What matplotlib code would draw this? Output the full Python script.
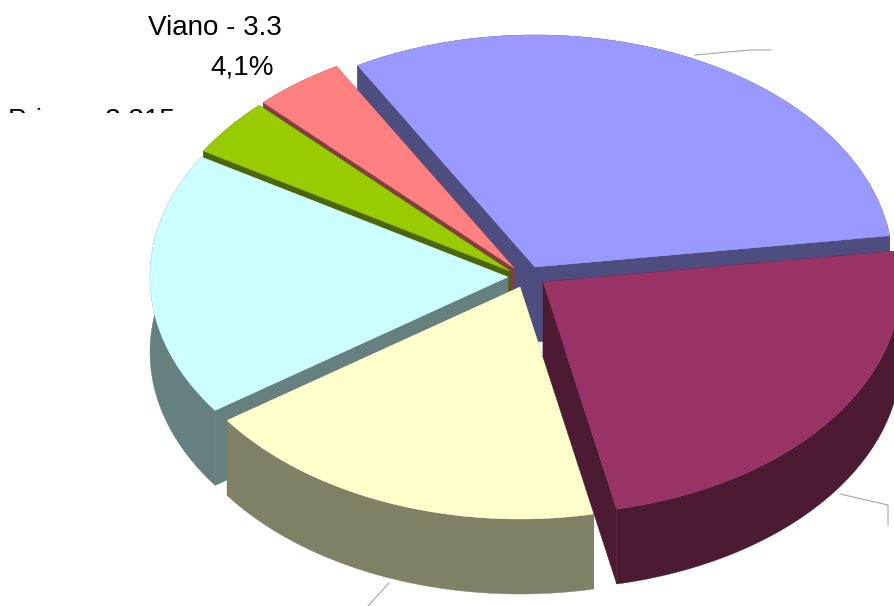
import numpy as np
import matplotlib
matplotlib.use("Agg")
import matplotlib.pyplot as plt
from matplotlib.patches import Polygon, Rectangle

plt.rcParams['font.family'] = ['Liberation Sans', 'DejaVu Sans']

# Data: share of each slice (percent), clockwise from the start angle
slice_names = ["Blue", "Maroon", "Yellow", "Cyan", "Primo", "Viano"]
shares = [31.1, 23.85, 18.55, 18.4, 4.0, 4.1]
top_colors = ["#9999FF", "#993366", "#FFFFCC", "#CCFFFF", "#99CC00", "#FF8080"]
side_colors = ["#4D4D80", "#4D1A33", "#808066", "#668080", "#4D6600", "#804040"]
label_viano = "Viano - 3.315"
label_viano_pct = "4,1%"
label_primo = "Primo - 3.315"

# Style / geometry of the projected pie
START_DEG = 330.3
RX, RY, DEPTH = 358.0, 232.0, 75.0
apexes = [(535, 267), (543, 282), (520, 287), (508, 277), (510, 271), (514, 268)]
draw_order = [0, 5, 4, 3, 2, 1]

fig = plt.figure(figsize=(8.95, 6.06), dpi=100)
ax = fig.add_axes([0, 0, 1, 1])
ax.set_xlim(0, 895)
ax.set_ylim(606, 0)
ax.axis("off")

# leader lines
for xs, ys in [([695, 750, 771], [55, 50, 50]),
               ([840, 888, 888], [494, 505, 525]),
               ([389, 368], [583, 606])]:
    ax.plot(xs, ys, color="#A6A6A6", lw=0.8, zorder=1, solid_joinstyle="miter")

edges = START_DEG + np.concatenate([[0], np.cumsum(shares)]) / np.sum(shares) * 360

for z, i in enumerate(draw_order):
    ax0, ay0 = apexes[i]
    t = np.radians(np.linspace(edges[i], edges[i + 1], 90))
    rx = ax0 + RX * np.sin(t)
    ry = ay0 - RY * np.cos(t)
    zb = 2 + z * 2
    # cut faces
    for k in (0, -1):
        ax.add_patch(Polygon([(ax0, ay0), (rx[k], ry[k]), (rx[k], ry[k] + DEPTH), (ax0, ay0 + DEPTH)],
                             closed=True, fc=side_colors[i], ec=side_colors[i], lw=0.3, zorder=zb))
    # outer wall
    wall = np.vstack([np.c_[rx, ry], np.c_[rx[::-1], ry[::-1] + DEPTH]])
    ax.add_patch(Polygon(wall, closed=True, fc=side_colors[i], ec=side_colors[i], lw=0.3, zorder=zb))
    # top face
    top = np.vstack([[ax0, ay0], np.c_[rx, ry]])
    ax.add_patch(Polygon(top, closed=True, fc=top_colors[i], ec=top_colors[i], lw=0.3, zorder=zb + 1))

# clipped data labels
tv = ax.text(148, 35, label_viano, fontsize=20, color="black", ha="left", va="baseline", zorder=30)
tv.set_clip_path(Rectangle((0, 0), 283.5, 606, transform=ax.transData))
tv.set_clip_on(True)
ax.text(210, 75, label_viano_pct, fontsize=20, color="black", ha="left", va="baseline", zorder=30)
tp = ax.text(8, 128, label_primo, fontsize=20, color="black", ha="left", va="baseline", zorder=30)
tp.set_clip_path(Rectangle((0, 0), 895, 112.5, transform=ax.transData))
tp.set_clip_on(True)

fig.savefig("out.png", dpi=100)
